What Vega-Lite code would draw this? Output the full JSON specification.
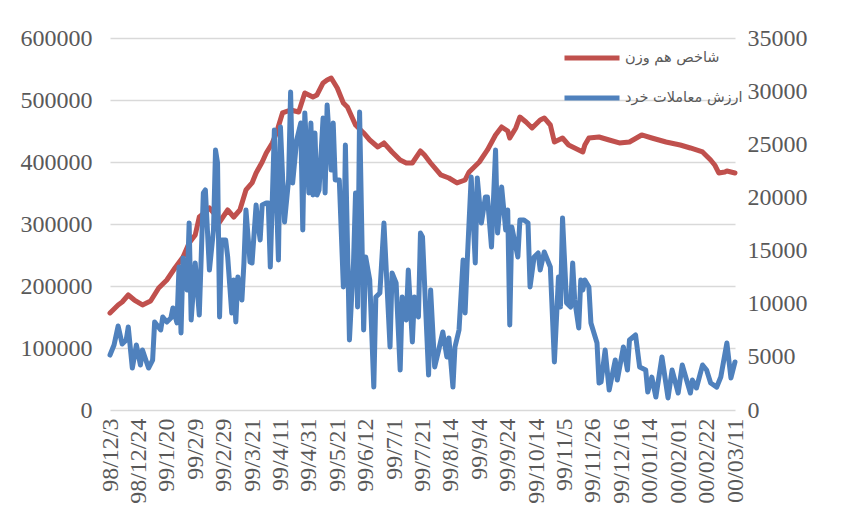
{
  "$schema": "https://vega.github.io/schema/vega-lite/v6.json",
  "width": 625,
  "height": 372,
  "autosize": {"type": "none"},
  "padding": {"left": 110, "top": 38, "right": 111, "bottom": 103},
  "background": "white",
  "config": {
    "view": {"stroke": null},
    "axis": {"labelFont": "Liberation Serif", "labelFontSize": 24, "labelColor": "#595959", "ticks": false, "domain": false, "title": null}
  },
  "datasets": {
    "idx": [
      {"t":0,"v":156500},{"t":4,"v":169400},{"t":6,"v":174200},{"t":9,"v":185500},{"t":12,"v":177400},{"t":16,"v":169400},{"t":20,"v":175800},{"t":24,"v":196800},{"t":28,"v":209700},{"t":32,"v":229000},{"t":36,"v":246800},{"t":39,"v":269400},{"t":42,"v":282300},{"t":44,"v":311300},{"t":47,"v":319400},{"t":49,"v":325800},{"t":52,"v":314500},{"t":54,"v":303200},{"t":58,"v":322600},{"t":61,"v":311300},{"t":64,"v":322600},{"t":67,"v":354900},{"t":70,"v":366200},{"t":72,"v":382300},{"t":75,"v":400000},{"t":77,"v":414500},{"t":80,"v":430700},{"t":82,"v":446800},{"t":85,"v":479100},{"t":89,"v":483900},{"t":93,"v":480700},{"t":96,"v":511300},{"t":100,"v":504900},{"t":102,"v":508100},{"t":105,"v":527500},{"t":107,"v":532300},{"t":109,"v":535500},{"t":112,"v":519400},{"t":115,"v":495200},{"t":117,"v":488700},{"t":121,"v":459700},{"t":125,"v":446800},{"t":128,"v":435500},{"t":132,"v":424200},{"t":135,"v":430700},{"t":139,"v":416200},{"t":143,"v":403300},{"t":146,"v":398400},{"t":149,"v":398400},{"t":153,"v":417800},{"t":155,"v":411300},{"t":158,"v":398400},{"t":163,"v":379100},{"t":167,"v":374200},{"t":171,"v":366200},{"t":175,"v":371000},{"t":177,"v":383900},{"t":182,"v":400000},{"t":186,"v":419400},{"t":190,"v":443600},{"t":193,"v":456500},{"t":196,"v":450000},{"t":197,"v":438700},{"t":200,"v":454900},{"t":202,"v":472600},{"t":205,"v":464500},{"t":208,"v":454900},{"t":212,"v":467800},{"t":214,"v":471000},{"t":217,"v":459700},{"t":219,"v":432300},{"t":223,"v":438700},{"t":226,"v":427400},{"t":228,"v":424200},{"t":231,"v":419400},{"t":233,"v":416200},{"t":234,"v":427400},{"t":236,"v":438700},{"t":241,"v":440300},{"t":246,"v":435500},{"t":251,"v":430700},{"t":256,"v":432300},{"t":262,"v":443600},{"t":267,"v":438700},{"t":274,"v":432300},{"t":281,"v":427400},{"t":286,"v":422600},{"t":292,"v":416200},{"t":296,"v":403300},{"t":298,"v":395200},{"t":300,"v":382300},{"t":303,"v":383900},{"t":304,"v":385500},{"t":308,"v":382300}
    ],
    "trd": [
      {"t":0,"v":5170},{"t":2,"v":6120},{"t":4,"v":7900},{"t":6,"v":6210},{"t":8,"v":6590},{"t":9,"v":7810},{"t":11,"v":3950},{"t":13,"v":6120},{"t":15,"v":4230},{"t":16,"v":5650},{"t":18,"v":4520},{"t":19,"v":3950},{"t":21,"v":4700},{"t":22,"v":8280},{"t":25,"v":7530},{"t":26,"v":8750},{"t":28,"v":8280},{"t":30,"v":8660},{"t":31,"v":9600},{"t":33,"v":8190},{"t":34,"v":13450},{"t":35,"v":7250},{"t":36,"v":14300},{"t":37,"v":12700},{"t":38,"v":11290},{"t":39,"v":17600},{"t":40,"v":8470},{"t":42,"v":13830},{"t":44,"v":8940},{"t":46,"v":20420},{"t":47,"v":20700},{"t":49,"v":13170},{"t":51,"v":16940},{"t":52,"v":24460},{"t":53,"v":23240},{"t":54,"v":8750},{"t":55,"v":16000},{"t":57,"v":16000},{"t":58,"v":14400},{"t":60,"v":9130},{"t":61,"v":12230},{"t":62,"v":8280},{"t":63,"v":12510},{"t":65,"v":10350},{"t":66,"v":13830},{"t":67,"v":18820},{"t":69,"v":13930},{"t":70,"v":13830},{"t":72,"v":19290},{"t":73,"v":17410},{"t":74,"v":16000},{"t":75,"v":19290},{"t":77,"v":19480},{"t":78,"v":19480},{"t":79,"v":13450},{"t":81,"v":26350},{"t":83,"v":14110},{"t":84,"v":26630},{"t":86,"v":17690},{"t":88,"v":21640},{"t":89,"v":29920},{"t":90,"v":21360},{"t":92,"v":25400},{"t":94,"v":27000},{"t":95,"v":16940},{"t":96,"v":27950},{"t":98,"v":20420},{"t":99,"v":27000},{"t":100,"v":20230},{"t":101,"v":26060},{"t":102,"v":20230},{"t":103,"v":20700},{"t":105,"v":27470},{"t":106,"v":20420},{"t":107,"v":28700},{"t":109,"v":22580},{"t":110,"v":27000},{"t":111,"v":21640},{"t":113,"v":21640},{"t":115,"v":11570},{"t":116,"v":24930},{"t":118,"v":6590},{"t":119,"v":10350},{"t":120,"v":13830},{"t":121,"v":20420},{"t":122,"v":9690},{"t":123,"v":28040},{"t":125,"v":7530},{"t":126,"v":14400},{"t":128,"v":12230},{"t":130,"v":2160},{"t":131,"v":10630},{"t":133,"v":11010},{"t":135,"v":17590},{"t":138,"v":5930},{"t":139,"v":12890},{"t":141,"v":11950},{"t":143,"v":3760},{"t":144,"v":10630},{"t":146,"v":8470},{"t":147,"v":13170},{"t":149,"v":6400},{"t":150,"v":10630},{"t":152,"v":8750},{"t":153,"v":16650},{"t":154,"v":16280},{"t":157,"v":3290},{"t":158,"v":11290},{"t":160,"v":4050},{"t":162,"v":5650},{"t":164,"v":7340},{"t":166,"v":4990},{"t":167,"v":6770},{"t":169,"v":2160},{"t":170,"v":5930},{"t":172,"v":7530},{"t":174,"v":14110},{"t":175,"v":9130},{"t":176,"v":13830},{"t":178,"v":21920},{"t":180,"v":13830},{"t":181,"v":21830},{"t":183,"v":17590},{"t":185,"v":20040},{"t":186,"v":20040},{"t":188,"v":15340},{"t":190,"v":24460},{"t":191,"v":16650},{"t":193,"v":20980},{"t":195,"v":16940},{"t":196,"v":18820},{"t":197,"v":8000},{"t":198,"v":17220},{"t":200,"v":15340},{"t":201,"v":14400},{"t":202,"v":17880},{"t":204,"v":17880},{"t":206,"v":17590},{"t":207,"v":11570},{"t":209,"v":14400},{"t":211,"v":14770},{"t":212,"v":13170},{"t":214,"v":14870},{"t":217,"v":13450},{"t":219,"v":4520},{"t":221,"v":12510},{"t":222,"v":9690},{"t":223,"v":18070},{"t":225,"v":10070},{"t":227,"v":9690},{"t":228,"v":13830},{"t":229,"v":10350},{"t":231,"v":7720},{"t":232,"v":12230},{"t":233,"v":11290},{"t":234,"v":12230},{"t":236,"v":11570},{"t":237,"v":8190},{"t":240,"v":6300},{"t":241,"v":2540},{"t":242,"v":2630},{"t":244,"v":5650},{"t":246,"v":1880},{"t":249,"v":4700},{"t":250,"v":2820},{"t":253,"v":5930},{"t":255,"v":3760},{"t":256,"v":6590},{"t":259,"v":7060},{"t":261,"v":4050},{"t":264,"v":3760},{"t":265,"v":1690},{"t":267,"v":3100},{"t":269,"v":1220},{"t":272,"v":4990},{"t":275,"v":1130},{"t":277,"v":3760},{"t":280,"v":1600},{"t":282,"v":4230},{"t":286,"v":1600},{"t":287,"v":2820},{"t":289,"v":2070},{"t":292,"v":4230},{"t":294,"v":3760},{"t":296,"v":2540},{"t":299,"v":2160},{"t":301,"v":3100},{"t":304,"v":6300},{"t":306,"v":3010},{"t":308,"v":4520}
    ]
  },
  "encoding": {
    "x": {
      "field": "t", "type": "quantitative",
      "scale": {"domain": [0, 308], "nice": false, "zero": false},
      "axis": {
        "values": [0,14,28,42,56,70,84,98,112,126,140,154,168,182,196,210,224,238,252,266,280,294,308],
        "labelExpr": "['98/12/3','98/12/24','99/1/20','99/2/9','99/2/29','99/3/21','99/4/11','99/4/31','99/5/21','99/6/12','99/7/1','99/7/21','99/8/14','99/9/4','99/9/24','99/10/14','99/11/5','99/11/26','99/12/16','00/01/14','00/02/01','00/02/22','00/03/11'][round(datum.value/14)]",
        "labelAngle": 270, "labelPadding": 8, "grid": false, "labelOverlap": false, "labelBound": false, "labelFlush": false
      }
    }
  },
  "layer": [
    {
      "data": {"name": "idx"},
      "mark": {"type": "line", "strokeWidth": 5, "strokeJoin": "round", "strokeCap": "round"},
      "encoding": {
        "y": {
          "field": "v", "type": "quantitative",
          "scale": {"domain": [0, 600000], "nice": false},
          "axis": {"values": [0,100000,200000,300000,400000,500000,600000], "format": "d", "grid": true, "gridColor": "#d9d9d9", "gridWidth": 1.5, "labelPadding": 18}
        },
        "color": {
          "datum": "شاخص هم وزن", "type": "nominal",
          "scale": {"domain": ["شاخص هم وزن", "ارزش معاملات خرد"], "range": ["#C0504D", "#4F81BD"]},
          "legend": {
            "title": null, "orient": "none", "legendX": 452, "legendY": -10,
            "symbolType": "stroke", "symbolSize": 3025, "symbolStrokeWidth": 5,
            "labelFont": "DejaVu Sans", "labelFontSize": 14.5, "labelColor": "#595959", "labelLimit": 0, "labelOffset": 3, "rowPadding": -20
          }
        }
      }
    },
    {
      "data": {"name": "trd"},
      "mark": {"type": "line", "strokeWidth": 5, "strokeJoin": "round", "strokeCap": "round"},
      "encoding": {
        "y": {
          "field": "v", "type": "quantitative",
          "scale": {"domain": [0, 35000], "nice": false},
          "axis": {"orient": "right", "values": [0,5000,10000,15000,20000,25000,30000,35000], "format": "d", "grid": false, "labelPadding": 12}
        },
        "color": {"datum": "ارزش معاملات خرد", "type": "nominal"}
      }
    }
  ],
  "resolve": {"scale": {"y": "independent"}}
}
